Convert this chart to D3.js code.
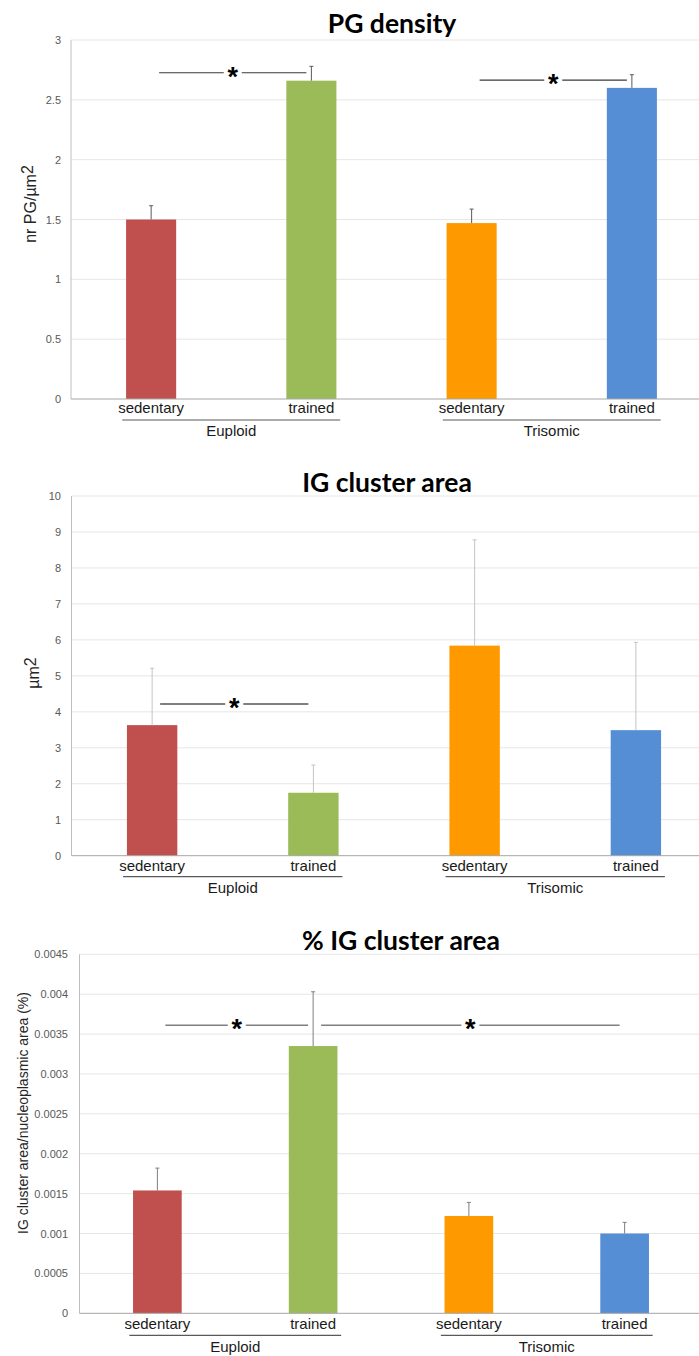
<!DOCTYPE html>
<html>
<head>
<meta charset="utf-8">
<script src="https://cdn.jsdelivr.net/npm/d3@7"></script>
<style>
  html, body { margin: 0; padding: 0; background: #fff; }
  svg { display: block; }
</style>
</head>
<body>
<svg id="chart" width="699" height="1356"></svg>
<script>
// Shared categories
const conditions = ["sedentary", "trained", "sedentary", "trained"];
const genotypes = ["Euploid", "Trisomic"];

// PG density (nr PG / µm²): means and upper error
const pgDensity = [1.50, 2.66, 1.47, 2.60];
const pgDensityErr = [0.115, 0.12, 0.117, 0.11];
const pgDensityTicks = [0, 0.5, 1, 1.5, 2, 2.5, 3];
// significance: [from bar, to bar, height in data units]
const pgDensitySig = [[0, 1, 2.726], [2, 3, 2.665]];

// IG cluster area (µm²)
const igArea = [3.63, 1.75, 5.84, 3.49];
const igAreaErr = [1.58, 0.77, 2.94, 2.44];
const igAreaTicks = [0, 1, 2, 3, 4, 5, 6, 7, 8, 9, 10];
const igAreaSig = [[0, 1, 4.22]];

// % IG cluster area (IG cluster area / nucleoplasmic area)
const pctIgArea = [0.00154, 0.00335, 0.00122, 0.00100];
const pctIgAreaErr = [0.00028, 0.00068, 0.00017, 0.00014];
const pctIgAreaTicks = [0, 0.0005, 0.001, 0.0015, 0.002, 0.0025, 0.003, 0.0035, 0.004, 0.0045];
const pctIgAreaSig = [[0, 1, 0.00361], [1, 3, 0.00361]];

const barColors = ["#c0504d", "#9bbb59", "#ff9900", "#558ed5"];

const svg = d3.select("#chart");

const panels = [
  {
    title: "PG density", titleX: 392, titleY: 33,
    values: pgDensity, errors: pgDensityErr, ticks: pgDensityTicks, sig: pgDensitySig,
    yLabel: ["nr PG/\u00b5m", "2"], yLabelX: 36, yLabelY: 204, yLabelSize: 16,
    left: 71, right: 712, top: 40, bottom: 399, tickX: 61,
    errColor: "#595959", sigColor: "#3a3a3a", sigWidth: 1.1,
    catDy: 14, groupLineDy: 21, groupDy: 37
  },
  {
    title: "IG cluster area", titleX: 387, titleY: 492,
    values: igArea, errors: igAreaErr, ticks: igAreaTicks, sig: igAreaSig,
    yLabel: ["\u00b5m", "2"], yLabelX: 39, yLabelY: 673, yLabelSize: 16,
    left: 71.5, right: 716.5, top: 496, bottom: 855.7, tickX: 61,
    errColor: "#c4c4c4", sigColor: "#7f7f7f", sigWidth: 2,
    catDy: 15, groupLineDy: 21, groupDy: 37
  },
  {
    title: "% IG cluster area", titleX: 401, titleY: 950,
    values: pctIgArea, errors: pctIgAreaErr, ticks: pctIgAreaTicks, sig: pctIgAreaSig,
    yLabel: ["IG cluster area/nucleoplasmic area (%)"], yLabelX: 28, yLabelY: 1113, yLabelSize: 14,
    left: 79.5, right: 702.5, top: 954.3, bottom: 1313.3, tickX: 68,
    errColor: "#7f7f7f", sigColor: "#7f7f7f", sigWidth: 1.5,
    catDy: 16, groupLineDy: 22, groupDy: 39
  }
];

panels.forEach(p => {
  const g = svg.append("g");
  const maxV = p.ticks[p.ticks.length - 1];

  const x = d3.scaleBand()
    .domain(d3.range(p.values.length))
    .range([p.left, p.right])
    .paddingInner(0.6875)
    .paddingOuter(0.34375);
  const y = d3.scaleLinear().domain([0, maxV]).range([p.bottom, p.top]);
  const cx = i => x(i) + x.bandwidth() / 2;
  const step = x.step();

  // horizontal gridlines
  g.append("g")
    .selectAll("line")
    .data(p.ticks.filter(t => t > 0))
    .join("line")
    .attr("x1", p.left).attr("x2", p.right)
    .attr("y1", d => y(d)).attr("y2", d => y(d))
    .attr("stroke", "#e6e6e6").attr("stroke-width", 1);

  // y axis (labels only, plus the vertical rule)
  const yAxis = g.append("g")
    .attr("transform", `translate(${p.tickX},0)`)
    .call(d3.axisLeft(y).tickValues(p.ticks).tickSize(0).tickPadding(0).tickFormat(d => String(d)));
  yAxis.select(".domain").remove();
  yAxis.selectAll("text")
    .attr("font-family", "Liberation Sans, Arial, sans-serif")
    .attr("font-size", 11)
    .attr("fill", "#595959");

  g.append("line")
    .attr("x1", p.left).attr("x2", p.left)
    .attr("y1", p.top).attr("y2", p.bottom)
    .attr("stroke", "#bfbfbf").attr("stroke-width", 1);

  // bars
  g.append("g")
    .selectAll("rect")
    .data(p.values)
    .join("rect")
    .attr("x", (d, i) => x(i))
    .attr("width", x.bandwidth())
    .attr("y", d => y(d))
    .attr("height", d => y(0) - y(d))
    .attr("fill", (d, i) => barColors[i]);

  // upper error bars
  const eb = g.append("g").attr("stroke", p.errColor).attr("stroke-width", 1);
  p.values.forEach((v, i) => {
    const top = y(v + p.errors[i]);
    eb.append("line").attr("x1", cx(i)).attr("x2", cx(i)).attr("y1", y(v)).attr("y2", top);
    eb.append("line").attr("x1", cx(i) - 2).attr("x2", cx(i) + 2).attr("y1", top).attr("y2", top);
  });

  // x baseline
  g.append("line")
    .attr("x1", p.left).attr("x2", p.right)
    .attr("y1", y(0)).attr("y2", y(0))
    .attr("stroke", "#a6a6a6").attr("stroke-width", 1);

  // condition labels
  g.append("g")
    .selectAll("text")
    .data(conditions)
    .join("text")
    .attr("x", (d, i) => cx(i))
    .attr("y", y(0) + p.catDy)
    .attr("text-anchor", "middle")
    .attr("font-family", "Liberation Sans, Arial, sans-serif")
    .attr("font-size", 15)
    .attr("fill", "#1a1a1a")
    .text(d => d);

  // genotype grouping lines and labels
  genotypes.forEach((gname, k) => {
    const mid = (cx(2 * k) + cx(2 * k + 1)) / 2;
    const half = step * 0.68;
    g.append("line")
      .attr("x1", mid - half).attr("x2", mid + half)
      .attr("y1", y(0) + p.groupLineDy).attr("y2", y(0) + p.groupLineDy)
      .attr("stroke", "#595959").attr("stroke-width", 1.2);
    g.append("text")
      .attr("x", mid)
      .attr("y", y(0) + p.groupDy)
      .attr("text-anchor", "middle")
      .attr("font-family", "Liberation Sans, Arial, sans-serif")
      .attr("font-size", 15)
      .attr("fill", "#1a1a1a")
      .text(gname);
  });

  // significance lines with asterisk
  p.sig.forEach(([a, b, h]) => {
    const x1 = cx(a) + 8, x2 = cx(b) - 5, yy = y(h);
    const xm = (x1 + x2) / 2;
    g.append("line").attr("x1", x1).attr("x2", xm - 9).attr("y1", yy).attr("y2", yy)
      .attr("stroke", p.sigColor).attr("stroke-width", p.sigWidth);
    g.append("line").attr("x1", xm + 9).attr("x2", x2).attr("y1", yy).attr("y2", yy)
      .attr("stroke", p.sigColor).attr("stroke-width", p.sigWidth);
    g.append("text")
      .attr("x", xm).attr("y", yy + 13)
      .attr("text-anchor", "middle")
      .attr("font-family", "Liberation Sans, Arial, sans-serif")
      .attr("font-weight", "bold")
      .attr("font-size", 27)
      .attr("fill", "#000")
      .text("*");
  });

  // title
  g.append("text")
    .attr("x", p.titleX).attr("y", p.titleY)
    .attr("text-anchor", "middle")
    .attr("font-family", "Lato, Open Sans, sans-serif")
    .attr("font-weight", "bold")
    .attr("font-size", 26.5)
    .attr("fill", "#000")
    .text(p.title);

  // y axis title
  const yl = g.append("text")
    .attr("transform", `translate(${p.yLabelX},${p.yLabelY}) rotate(-90)`)
    .attr("text-anchor", "middle")
    .attr("font-family", "Liberation Sans, Arial, sans-serif")
    .attr("font-size", p.yLabelSize)
    .attr("fill", "#262626");
  yl.append("tspan").text(p.yLabel[0]);
  if (p.yLabel.length > 1) {
    yl.append("tspan").attr("dy", -3).text(p.yLabel[1]);
  }
});
</script>
</body>
</html>
